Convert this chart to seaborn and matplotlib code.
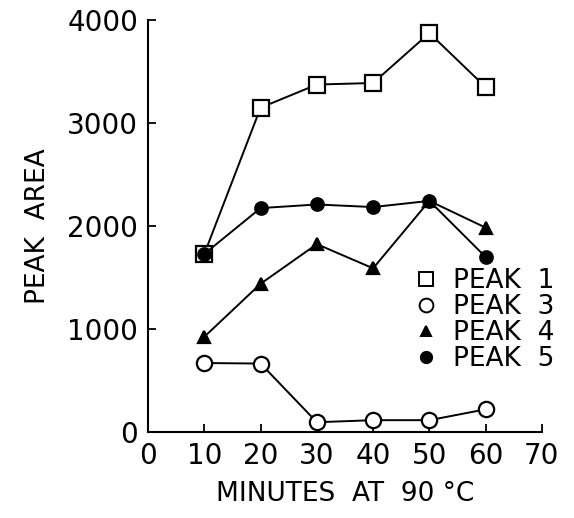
import matplotlib
matplotlib.use("Agg")
import matplotlib.pyplot as plt
from matplotlib.lines import Line2D
import pandas as pd
import seaborn as sns

minutes = [10, 20, 30, 40, 50, 60]
peak1 = [1730, 3150, 3375, 3390, 3875, 3350]
peak3 = [670, 665, 95, 115, 115, 220]
peak4 = [925, 1440, 1825, 1590, 2245, 1985]
peak5 = [1730, 2175, 2210, 2185, 2245, 1700]
labels = ["PEAK  1", "PEAK  3", "PEAK  4", "PEAK  5"]

sns.set_style("white")
plt.rcParams['font.family'] = ['DejaVu Sans']
plt.rcParams['text.color'] = 'black'
plt.rcParams['axes.labelcolor'] = 'black'

fig = plt.figure(figsize=(5.74, 5.18), dpi=100)
ax = fig.add_axes([0.258, 0.166, 0.686, 0.795])

styles = [
    (peak1, "s", "white", 11),
    (peak3, "o", "white", 11),
    (peak4, "^", "black", 8),
    (peak5, "o", "black", 9),
]
handles = []
for (vals, m, fc, ms), lab in zip(styles, labels):
    df = pd.DataFrame({"min": minutes, "area": vals})
    sns.lineplot(data=df, x="min", y="area", ax=ax, color="black", lw=1.4,
                 marker=m, markersize=ms, markerfacecolor=fc,
                 markeredgecolor="black", markeredgewidth=1.6)
    handles.append(Line2D([], [], ls="none", marker=m, color="black",
                          markerfacecolor=fc, markersize=ms * 0.9,
                          markeredgewidth=1.4, label=lab))

ax.set_xlim(0, 70)
ax.set_ylim(0, 4000)
ax.set_xticks(range(0, 71, 10))
ax.set_yticks(range(0, 4001, 1000))
sns.despine(ax=ax)
for s in ["left", "bottom"]:
    ax.spines[s].set_color("black")
    ax.spines[s].set_linewidth(1.5)
ax.tick_params(bottom=True, left=True, direction="in", length=6, width=1.3,
               labelsize=20, colors="black", pad=7)
ax.set_xlabel("MINUTES  AT  90 °C", fontsize=19, labelpad=8)
ax.set_ylabel("PEAK  AREA", fontsize=19, labelpad=12)

ax.legend(handles=handles, loc="upper left", bbox_to_anchor=(0.64, 0.43),
          frameon=False, fontsize=19, handlelength=1.0, handletextpad=0.5,
          labelspacing=0.0, borderpad=0)

fig.savefig("out.png", dpi=100)
